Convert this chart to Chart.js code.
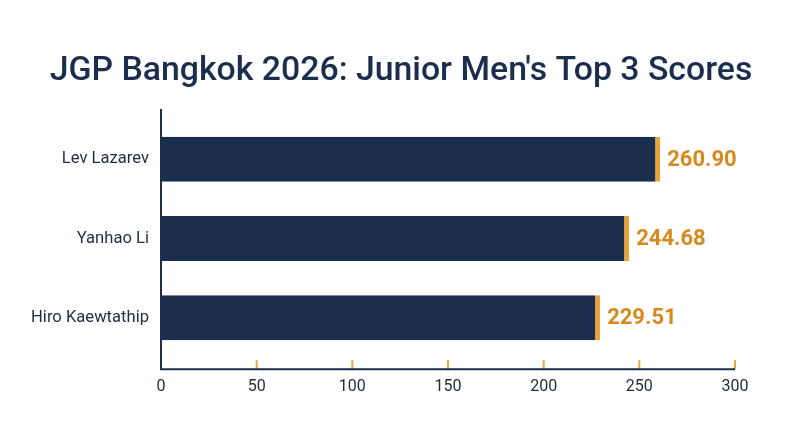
<!DOCTYPE html>
<html>
<head>
<meta charset="utf-8">
<script src="https://cdn.jsdelivr.net/npm/chart.js@4"></script>
<style>
  html, body { margin: 0; padding: 0; background: #ffffff; }
  #wrap { width: 800px; height: 447px; position: relative; }
</style>
</head>
<body>
<div id="wrap"><canvas id="c"></canvas></div>
<script>
const titleText = "JGP Bangkok 2026: Junior Men's Top 3 Scores";
const skaters = ["Lev Lazarev", "Yanhao Li", "Hiro Kaewtathip"];
const scores = [260.90, 244.68, 229.51];
const xMin = 0, xMax = 300, xStep = 50;

const NAVY = '#1b2e4e';
const ORANGE = '#e8a33a';
const ORANGE_TEXT = '#d68a1e';

const titlePlugin = {
  id: 'titlePlugin',
  afterDraw(chart) {
    const ctx = chart.ctx;
    ctx.save();
    ctx.fillStyle = NAVY;
    ctx.font = '500 33.8px Roboto';
    ctx.textAlign = 'center';
    ctx.textBaseline = 'alphabetic';
    ctx.fillText(titleText, chart.width / 2 + 1, 79.5);
    ctx.restore();
  }
};

const axisPlugin = {
  id: 'axisPlugin',
  afterDatasetsDraw(chart) {
    const ctx = chart.ctx;
    const ca = chart.chartArea;
    const xs = chart.scales.x;
    const top = ca.top - 10.5;
    const axisY = ca.bottom + 11.8;
    ctx.save();
    ctx.strokeStyle = ORANGE;
    ctx.lineWidth = 2;
    xs.ticks.forEach(t => {
      if (t.value === xMin) return;
      const px = xs.getPixelForValue(t.value);
      ctx.beginPath();
      ctx.moveTo(px, axisY - 9);
      ctx.lineTo(px, axisY);
      ctx.stroke();
    });
    ctx.strokeStyle = NAVY;
    ctx.lineWidth = 2;
    ctx.beginPath();
    ctx.moveTo(ca.left, top);
    ctx.lineTo(ca.left, axisY);
    ctx.lineTo(xs.getPixelForValue(xMax), axisY);
    ctx.stroke();
    const meta = chart.getDatasetMeta(0);
    ctx.fillStyle = ORANGE_TEXT;
    ctx.font = 'bold 22px Roboto';
    ctx.textAlign = 'left';
    ctx.textBaseline = 'middle';
    meta.data.forEach((bar, i) => {
      ctx.fillText(scores[i].toFixed(2), bar.x + 7, bar.y + 1);
    });
    ctx.restore();
  }
};

new Chart(document.getElementById('c'), {
  type: 'bar',
  data: {
    labels: skaters,
    datasets: [{
      data: scores,
      backgroundColor: NAVY,
      borderColor: ORANGE,
      borderWidth: { left: 0, top: 0, bottom: 0, right: 5 },
      borderSkipped: false,
      categoryPercentage: 0.8,
      barPercentage: 0.71
    }]
  },
  options: {
    indexAxis: 'y',
    responsive: true,
    maintainAspectRatio: false,
    animation: false,
    layout: { padding: { left: 0, right: 65, top: 119.5, bottom: 0 } },
    plugins: {
      legend: { display: false },
      tooltip: { enabled: false },
      title: { display: false }
    },
    scales: {
      x: {
        min: xMin,
        max: xMax,
        grid: { display: false, drawTicks: false },
        border: { display: false },
        ticks: {
          stepSize: xStep,
          color: '#1f2a3c',
          padding: 20,
          font: { family: 'Roboto', size: 16 }
        },
        afterFit(scale) { scale.height = 89.5; }
      },
      y: {
        grid: { display: false, drawTicks: false },
        border: { display: false },
        ticks: {
          color: '#1f2d45',
          padding: 12,
          font: { family: 'Roboto', size: 16.6 }
        },
        afterFit(scale) { scale.width = 161; }
      }
    }
  },
  plugins: [axisPlugin, titlePlugin]
});
</script>
</body>
</html>
